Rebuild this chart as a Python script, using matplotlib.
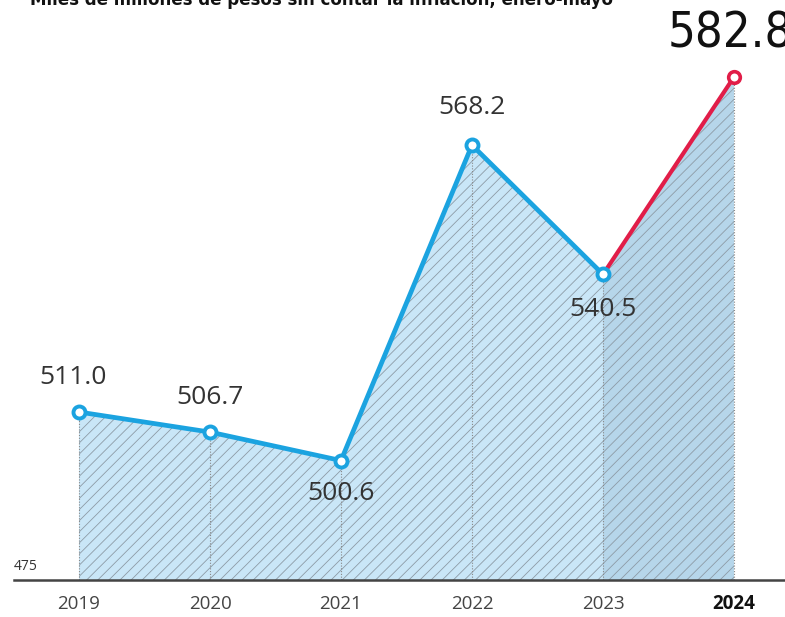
import matplotlib.pyplot as plt
import matplotlib as mpl

years = [2019, 2020, 2021, 2022, 2023, 2024]
values = [511.0, 506.7, 500.6, 568.2, 540.5, 582.8]
labels = ["511.0", "506.7", "500.6", "568.2", "540.5", "582.8"]
# label offsets in points: above or below the marker
label_dy = [25, 25, -24, 27, -25, 0]
label_dx = [-4, 0, 0, 0, 0, 0]
title = "Miles de millones de pesos sin contar la inflación, enero-mayo"
y_base = 475

BLUE = "#1ba3e0"
RED = "#e11d48"
FILL = "#c9e6f7"
FILL_DARK = "#b6d6ea"
TXT = "#333333"

mpl.rcParams["hatch.color"] = "#8d9ba6"
mpl.rcParams["hatch.linewidth"] = 0.6

W, H = 785, 617
fig = plt.figure(figsize=(W / 100, H / 100), dpi=100)
ax = fig.add_axes([0, (H - 580) / H, 1, 580 / H])
ax.set_xlim(2019 - 79 / 131, 2019 + (W - 79) / 131)
ax.set_ylim(y_base, y_base + 580 / 4.666)
ax.axis("off")

# shaded area, 2019-2023 light, 2023-2024 darker
ax.fill_between(years[:5], values[:5], y_base, facecolor=FILL, edgecolor="none", zorder=1)
ax.fill_between(years[4:], values[4:], y_base, facecolor=FILL_DARK, edgecolor="none", zorder=1)
ax.fill_between(years, values, y_base, facecolor="none", edgecolor="#8d9ba6",
                hatch="///", linewidth=0, zorder=1.5)

# dotted drop lines
for x, v in zip(years, values):
    ax.plot([x, x], [y_base, v], color="#888888", lw=0.8, ls=(0, (1, 1.5)), zorder=2)

# line segments
ax.plot(years[:5], values[:5], color=BLUE, lw=3.4, solid_capstyle="round", zorder=3)
ax.plot(years[4:], values[4:], color=RED, lw=3.0, solid_capstyle="round", zorder=3)
ax.scatter(years[:5], values[:5], s=75, facecolor="white", edgecolor=BLUE, linewidth=2.8, zorder=4)
ax.scatter(years[5:], values[5:], s=70, facecolor="white", edgecolor=RED, linewidth=2.6, zorder=4)

# value labels
for x, v, lab, dy, dx in zip(years[:5], values[:5], labels[:5], label_dy[:5], label_dx[:5]):
    ax.annotate(lab, (x, v), xytext=(dx, dy), textcoords="offset points",
                ha="center", va="center", fontsize=19, color=TXT, family="Open Sans")

fig.text(668 / W, 1 - 48 / H, labels[5], ha="left", va="baseline", fontsize=35,
         color="#111111", family="DejaVu Sans", fontstretch="condensed")

# base axis line and ticks
ax.plot([14 / W, 1], [0, 0], transform=ax.transAxes, color="#444444", lw=1.8,
        clip_on=False, zorder=5)
ax.text(14 / W, 6 / 580, str(y_base), transform=ax.transAxes, ha="left", va="bottom",
        fontsize=10, color=TXT, family="Open Sans")
for x in years:
    ax.annotate(str(x), (x, y_base), xytext=(0, -17), textcoords="offset points",
                ha="center", va="center", fontsize=13.5, color="#111111" if x == 2024 else "#444444",
                fontweight="bold" if x == 2024 else "normal", family="Open Sans",
                annotation_clip=False)

fig.text(30 / W, 1 - 5 / H, title, ha="left", va="baseline", fontsize=12,
         fontweight="bold", color="#111111", family="DejaVu Sans")

fig.savefig("out.png", dpi=100)
